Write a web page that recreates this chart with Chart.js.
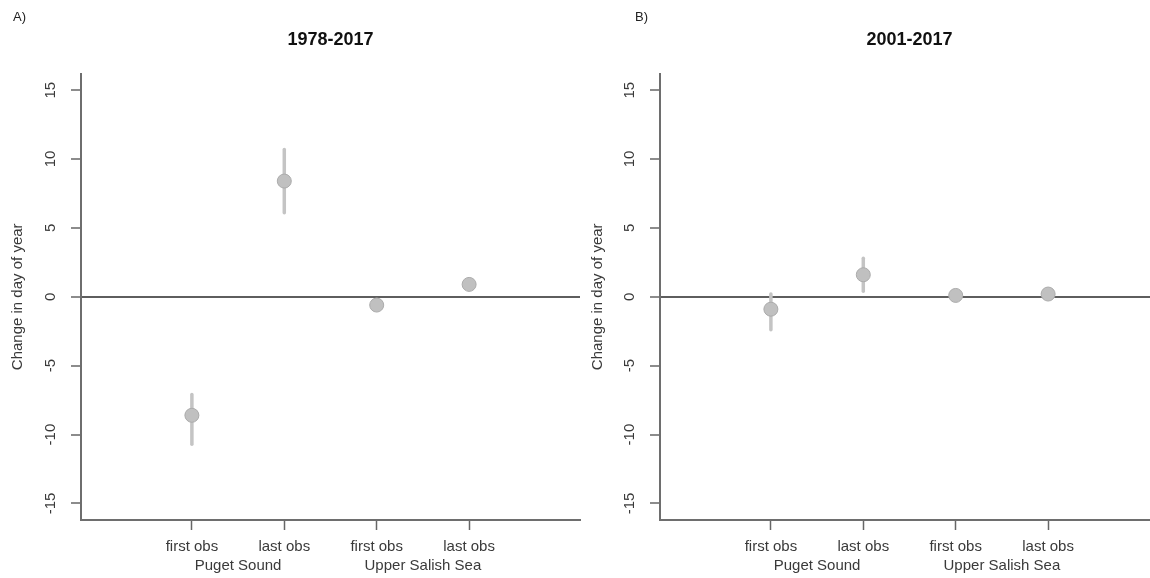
<!DOCTYPE html>
<html><head><meta charset="utf-8">
<script src="https://cdn.jsdelivr.net/npm/chart.js@4"></script>
<style>
html,body{margin:0;padding:0;background:#fff;}
body{width:1150px;height:578px;overflow:hidden;position:relative;}
.panel{position:absolute;top:0;}
</style></head><body>
<div class="panel" style="left:0;width:661px;height:578px"><canvas id="cA" width="661" height="578"></canvas></div>
<div class="panel" style="left:580px;width:659px;height:578px"><canvas id="cB" width="659" height="578"></canvas></div>
<script>
// ---- data ----
const categories = ['first obs', 'last obs', 'first obs', 'last obs'];
const categoryPos = [1, 2, 3, 4];
const groups = ['Puget Sound', 'Upper Salish Sea'];
const groupPos = [1.5, 3.5];
const yTickValues = [-15, -10, -5, 0, 5, 10, 15];

const titleA = '1978-2017';
const meanA = [-8.6, 8.4, -0.6, 0.9];
const lowA  = [-10.7, 6.1, -0.75, 0.75];
const highA = [-7.1, 10.7, -0.45, 1.05];

const titleB = '2001-2017';
const meanB = [-0.9, 1.6, 0.1, 0.2];
const lowB  = [-2.4, 0.4, 0.0, 0.1];
const highB = [0.2, 2.8, 0.2, 0.3];

// ---- drawing ----
const FONT = '"Liberation Sans", Arial, sans-serif';
const TXT = '#3a3a3a';

const letterPlugin = {
  id: 'panelLetter',
  afterDraw(chart, args, opts) {
    const c = chart.ctx;
    c.save();
    c.font = '13px ' + FONT;
    c.fillStyle = '#222';
    c.textBaseline = 'middle';
    c.fillText(opts.text, opts.x, opts.y);
    c.restore();
  }
};

function makeChart(id, title, letter, mean, low, high, cfg) {
  const datasets = [];
  mean.forEach((m, i) => {
    datasets.push({
      type: 'line',
      data: [{x: categoryPos[i], y: low[i]}, {x: categoryPos[i], y: high[i]}],
      borderColor: '#c4c4c4', borderWidth: 3.5, pointRadius: 0,
      borderCapStyle: 'round', order: 2
    });
  });
  datasets.push({
    type: 'scatter',
    data: mean.map((v, i) => ({x: categoryPos[i], y: v})),
    pointRadius: 7, backgroundColor: '#c0c0c0', borderColor: '#ababab', borderWidth: 1,
    order: 1
  });
  return new Chart(document.getElementById(id), {
    type: 'scatter',
    data: {datasets},
    options: {
      responsive: false,
      animation: false,
      layout: {padding: 0},
      plugins: {
        legend: {display: false},
        tooltip: {enabled: false},
        title: {display: true, text: title, color: '#111',
          font: {family: FONT, size: 18, weight: 'bold'},
          padding: {top: 29, bottom: 23}},
        panelLetter: {text: letter, x: cfg.letterX, y: 17}
      },
      scales: {
        x: {
          type: 'linear', position: 'bottom', min: -0.2, max: 5.2, weight: 0,
          afterBuildTicks: s => { s.ticks = categoryPos.map(v => ({value: v})); },
          ticks: {
            callback: v => categories[categoryPos.indexOf(v)],
            autoSkip: false, maxRotation: 0, minRotation: 0, padding: 8,
            color: TXT, font: {family: FONT, size: 15}
          },
          grid: {drawOnChartArea: false, tickLength: 10, color: '#666', tickWidth: 1.5},
          border: {color: '#6e6e6e', width: 2},
          afterFit: s => { s.height = 37; }
        },
        x2: {
          type: 'linear', position: 'bottom', min: -0.2, max: 5.2, weight: 1,
          afterBuildTicks: s => { s.ticks = groupPos.map(v => ({value: v})); },
          ticks: {
            callback: v => groups[groupPos.indexOf(v)],
            autoSkip: false, maxRotation: 0, minRotation: 0, padding: 0,
            color: TXT, font: {family: FONT, size: 15}
          },
          grid: {display: false, drawTicks: false},
          border: {display: false},
          afterFit: s => { s.height = 21; }
        },
        y: {
          type: 'linear', position: 'left', min: -16.2, max: 16.2,
          afterBuildTicks: s => { s.ticks = yTickValues.map(v => ({value: v})); },
          ticks: {
            callback: v => String(v),
            minRotation: 90, maxRotation: 90, crossAlign: 'center', padding: 9,
            color: TXT, font: {family: FONT, size: 15}
          },
          grid: {
            color: ctx => (ctx.tick && ctx.tick.value === 0) ? '#5e5e5e' : 'rgba(0,0,0,0)',
            lineWidth: 2, tickLength: 10, tickColor: '#666', tickWidth: 1.5
          },
          border: {color: '#6e6e6e', width: 2},
          title: {display: true, text: 'Change in day of year', color: TXT,
            font: {family: FONT, size: 15}, padding: {top: 9, bottom: 0}},
          afterFit: s => { s.width = cfg.yWidth; }
        },
        yPad: {
          type: 'linear', position: 'right', min: -16.2, max: 16.2,
          ticks: {display: false},
          grid: {display: false, drawTicks: false},
          border: {display: false},
          afterFit: s => { s.width = cfg.padRight; }
        }
      }
    },
    plugins: [letterPlugin]
  });
}

makeChart('cA', titleA, 'A)', meanA, lowA, highA, {yWidth: 81, padRight: 81, letterX: 13});
makeChart('cB', titleB, 'B)', meanB, lowB, highB, {yWidth: 80, padRight: 80, letterX: 55});
</script>
</body></html>
